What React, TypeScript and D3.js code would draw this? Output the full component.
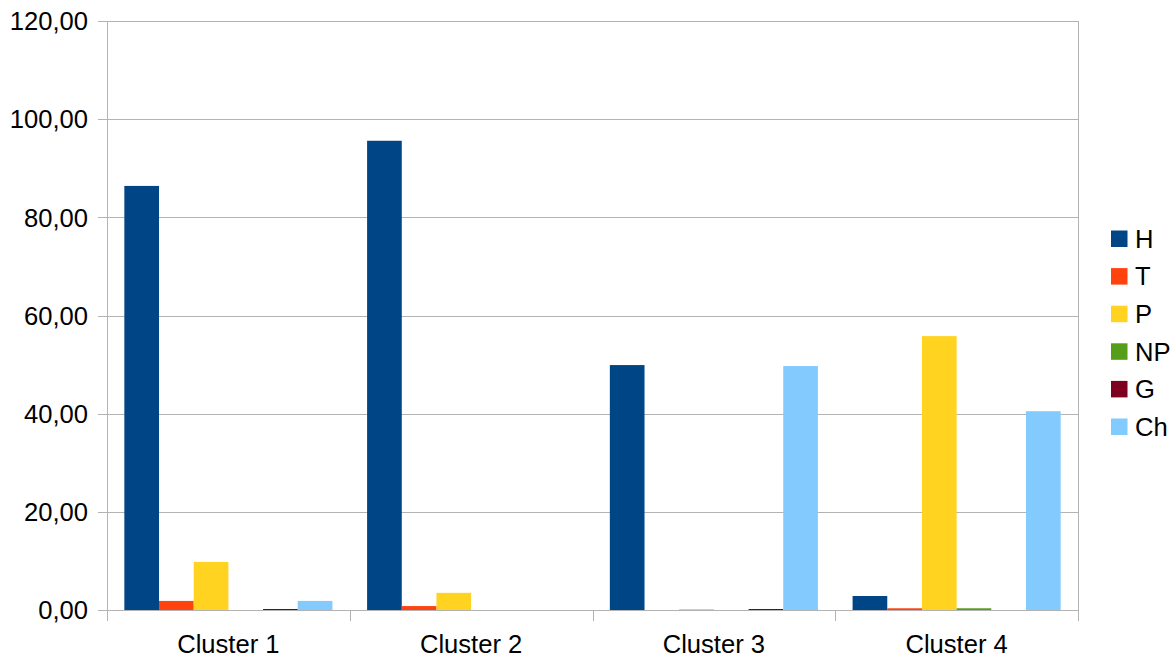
import React from "react";
import * as d3 from "d3";

const categories = ["Cluster 1", "Cluster 2", "Cluster 3", "Cluster 4"];
const seriesNames = ["H", "T", "P", "NP", "G", "Ch"];
const seriesColors = ["#004586", "#ff420e", "#ffd320", "#579d1c", "#7e0021", "#83caff"];
const valuesH = [86.4, 95.6, 49.9, 2.85];
const valuesT = [1.85, 0.8, 0, 0.35];
const valuesP = [9.8, 3.5, 0.12, 55.8];
const valuesNP = [0, 0, 0, 0.35];
const valuesG = [0.12, 0, 0.12, 0];
const valuesCh = [1.85, 0, 49.7, 40.5];
const yTicks = [0, 20, 40, 60, 80, 100, 120];

const W = 1173, H = 656;
const left = 107, right = 1078, top = 21, bottom = 610;

export default function App() {
  const series = [valuesH, valuesT, valuesP, valuesNP, valuesG, valuesCh];
  const x = d3.scaleBand<string>().domain(categories).range([left, right]).paddingInner(0).paddingOuter(0);
  const bw = x.bandwidth() / 7;
  const y = d3.scaleLinear().domain([0, 120]).range([bottom, top]);
  const fmt = (v: number) => d3.format(".2f")(v).replace(".", ",");
  const font = "'Liberation Sans', Arial, sans-serif";
  const fs = 25.6;
  const grid = "#b3b3b3";
  return (
    <svg width={W} height={H} style={{ position: "absolute", left: 0, top: 0, background: "#fff" }} fontFamily={font}>
      <rect x={0} y={0} width={W} height={H} fill="#fff" />
      {yTicks.map((t) => (
        <g key={t}>
          <line x1={left - 9} x2={right} y1={Math.round(y(t)) + 0.5} y2={Math.round(y(t)) + 0.5} stroke={grid} strokeWidth={1} />
          <text x={88} y={y(t)} dy="0.36em" textAnchor="end" fontSize={fs} fill="#000">{fmt(t)}</text>
        </g>
      ))}
      <line x1={left + 0.5} x2={left + 0.5} y1={top} y2={bottom} stroke={grid} />
      <line x1={right + 0.5} x2={right + 0.5} y1={top} y2={bottom} stroke={grid} />
      {categories.map((c, ci) => (
        <g key={c}>
          {series.map((vals, si) => {
            const v = vals[ci];
            if (v <= 0) return null;
            const x0 = (x(c) as number) + bw * 0.5 + si * bw;
            const h = Math.max(1, y(0) - y(v));
            return <rect key={si} x={x0} y={y(0) - h} width={bw} height={h} fill={seriesColors[si]} />;
          })}
          <text x={(x(c) as number) + x.bandwidth() / 2} y={652.7} textAnchor="middle" fontSize={fs} fill="#000">{c}</text>
        </g>
      ))}
      <line x1={left} x2={right} y1={bottom + 0.5} y2={bottom + 0.5} stroke={grid} />
      {[...categories.map((c) => x(c) as number), right].map((tx, i) => (
        <line key={i} x1={Math.round(tx) + 0.5} x2={Math.round(tx) + 0.5} y1={bottom} y2={bottom + 11} stroke={grid} />
      ))}
      {seriesNames.map((s, i) => {
        const cy = 238.5 + i * 37.6;
        return (
          <g key={s}>
            <rect x={1111} y={cy - 8} width={16.5} height={16.5} fill={seriesColors[i]} />
            <text x={1135} y={cy} dy="0.36em" fontSize={fs} fill="#000">{s}</text>
          </g>
        );
      })}
    </svg>
  );
}
